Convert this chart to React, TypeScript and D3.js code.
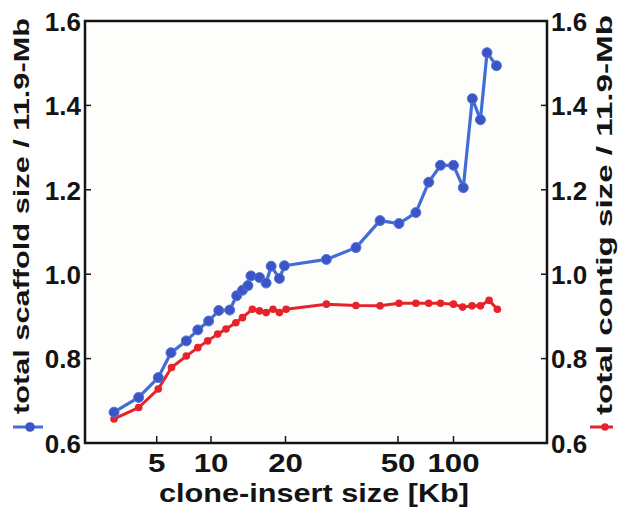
import React from "react";
import * as d3 from "d3";

const xTickValues = [5, 10, 20, 50, 100];
const xTickLabels = ["5", "10", "20", "50", "100"];
const yTickValues = [0.6, 0.8, 1.0, 1.2, 1.4, 1.6];
const yTickLabels = ["0.6", "0.8", "1.0", "1.2", "1.4", "1.6"];

const scaffoldX = [2.9, 3.97, 5.1, 6.0, 7.3, 8.45, 9.7, 10.75, 11.9, 12.7, 13.4, 14.1, 14.5, 15.7, 16.7, 17.5, 18.9, 19.8, 27.9, 35.5, 43.2, 50.6, 62.5, 73.4, 85, 100, 113, 126.5, 140, 152, 171];
const scaffoldY = [0.673, 0.708, 0.755, 0.814, 0.842, 0.868, 0.889, 0.914, 0.915, 0.949, 0.962, 0.973, 0.996, 0.992, 0.979, 1.019, 0.99, 1.02, 1.035, 1.063, 1.127, 1.12, 1.146, 1.218, 1.258, 1.258, 1.205, 1.416, 1.366, 1.525, 1.494];

const contigX = [2.9, 3.97, 5.1, 6.04, 7.3, 8.45, 9.58, 10.64, 11.5, 12.6, 13.4, 14.7, 15.7, 16.7, 17.8, 18.9, 20.1, 27.9, 35.5, 43.2, 50.6, 62.5, 73.4, 85, 100, 112, 126, 140, 156, 173];
const contigY = [0.657, 0.684, 0.728, 0.779, 0.806, 0.826, 0.842, 0.858, 0.87, 0.885, 0.897, 0.917, 0.913, 0.909, 0.917, 0.909, 0.917, 0.929, 0.926, 0.925, 0.931, 0.931, 0.931, 0.931, 0.929, 0.922, 0.925, 0.925, 0.938, 0.917];

const xTitle = "clone-insert size [Kb]";
const yLeftTitle = "total scaffold size / 11.9-Mb";
const yRightTitle = "total contig size / 11.9-Mb";

const W = 618;
const H = 508;
const L = 85, R = 547, T = 21, B = 443;
const FONT = "'Liberation Sans', Arial, Helvetica, sans-serif";
const BLUE_LINE = "#3f6ed6";
const BLUE_DOT = "#3b55c4";
const RED = "#e6232a";
const INK = "#141414";

export default function App() {
  // the reference's x axis is a log axis with irregular tick spacing: piecewise log scale
  const x = d3.scaleLog().domain(xTickValues).range([156.7, 211, 285.5, 398, 453.5]);
  const y = d3.scaleLinear().domain([0.6, 1.6]).range([B, T]);

  const blue = scaffoldX.map((v, i) => [v, scaffoldY[i]] as [number, number]);
  const red = contigX.map((v, i) => [v, contigY[i]] as [number, number]);
  const line = d3.line<[number, number]>().x(d => x(d[0])).y(d => y(d[1]));

  return (
    <svg width={W} height={H} style={{ position: "absolute", left: 0, top: 0, background: "#fff" }}>
      <rect x={0} y={0} width={W} height={H} fill="#ffffff" />
      <rect x={L} y={T} width={R - L} height={B - T} fill="#fdfdfb" />

      {/* ticks (inward) */}
      {yTickValues.map((v, i) => (
        <g key={"yt" + i}>
          <line x1={L} x2={L + 6} y1={y(v)} y2={y(v)} stroke={INK} strokeWidth={1.5} />
          <line x1={R - 6} x2={R} y1={y(v)} y2={y(v)} stroke={INK} strokeWidth={1.5} />
          <text x={81} y={y(v)} dy="0.38em" textAnchor="end" fontFamily={FONT} fontWeight="bold" fontSize={26} fill={INK}>{yTickLabels[i]}</text>
          <text x={551} y={y(v)} dy="0.38em" textAnchor="start" fontFamily={FONT} fontWeight="bold" fontSize={26} fill={INK}>{yTickLabels[i]}</text>
        </g>
      ))}
      {xTickValues.map((v, i) => (
        <g key={"xt" + i}>
          <line x1={x(v)} x2={x(v)} y1={B} y2={B - 7} stroke={INK} strokeWidth={1.5} />
          <text transform={`translate(${x(v)},472) scale(1.2,1)`} textAnchor="middle" fontFamily={FONT} fontWeight="bold" fontSize={26} fill={INK}>{xTickLabels[i]}</text>
        </g>
      ))}

      {/* data */}
      <path d={line(red) || ""} fill="none" stroke={RED} strokeWidth={3} strokeLinejoin="round" />
      {red.map((d, i) => (
        <circle key={"r" + i} cx={x(d[0])} cy={y(d[1])} r={3.8} fill={RED} />
      ))}
      <path d={line(blue) || ""} fill="none" stroke={BLUE_LINE} strokeWidth={3.2} strokeLinejoin="round" />
      {blue.map((d, i) => (
        <circle key={"b" + i} cx={x(d[0])} cy={y(d[1])} r={5} fill={BLUE_DOT} stroke="#5576dc" strokeWidth={1} />
      ))}

      {/* frame */}
      <rect x={L} y={T} width={R - L} height={B - T} fill="none" stroke={INK} strokeWidth={2.5} />

      {/* titles */}
      <text x={314} y={502} textAnchor="middle" fontFamily={FONT} fontWeight="bold" fontSize={25} fill={INK} textLength={310} lengthAdjust="spacingAndGlyphs">{xTitle}</text>
      <text transform="translate(29,414) rotate(-90)" textAnchor="start" fontFamily={FONT} fontWeight="bold" fontSize={22} fill={INK} textLength={396} lengthAdjust="spacingAndGlyphs">{yLeftTitle}</text>
      <text transform="translate(612,415) rotate(-90)" textAnchor="start" fontFamily={FONT} fontWeight="bold" fontSize={22} fill={INK} textLength={400} lengthAdjust="spacingAndGlyphs">{yRightTitle}</text>

      {/* legend samples */}
      <line x1={13} x2={43} y1={427} y2={427} stroke={BLUE_LINE} strokeWidth={3} />
      <circle cx={30} cy={427} r={4.8} fill={BLUE_DOT} />
      <line x1={590} x2={613} y1={427} y2={427} stroke={RED} strokeWidth={3} />
      <circle cx={605} cy={427} r={3.8} fill={RED} />
    </svg>
  );
}
